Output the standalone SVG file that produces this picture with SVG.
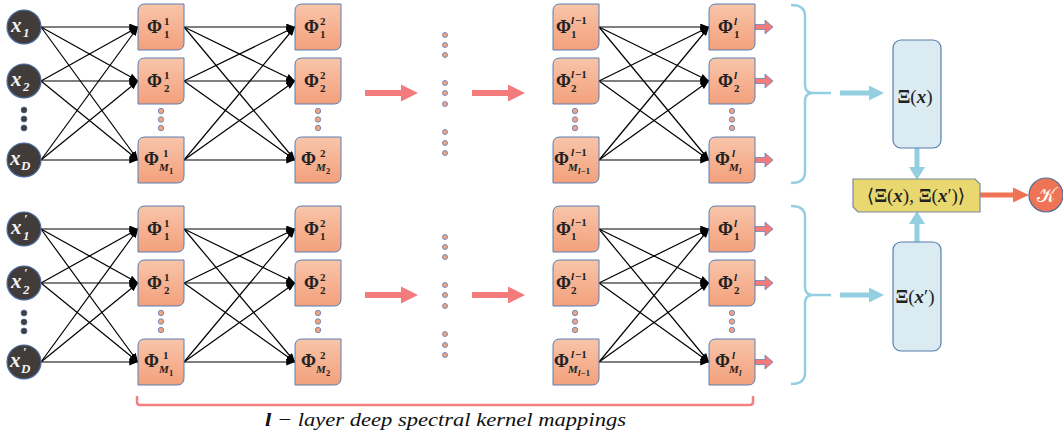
<svg xmlns="http://www.w3.org/2000/svg" xmlns:xlink="http://www.w3.org/1999/xlink" width="1063" height="439" viewBox="0 0 1063 439">
  <style>
    .cn { stroke: #000; stroke-width: 1.2; marker-end: url(#ah); }
    .inp { fill: #413b3a; stroke: #4c6ea3; stroke-width: 1.2; }
    .xin { font-family: "Liberation Serif", "DejaVu Serif", serif; font-style: italic; font-weight: bold; fill: #f2f2f2; font-size: 21px; }
    .xsub { font-family: "Liberation Serif", "DejaVu Serif", serif; font-style: italic; font-weight: bold; fill: #f2f2f2; font-size: 13px; }
    .box { fill: url(#boxFill); stroke: #5a7fb3; stroke-width: 1; }
    .phi { font-family: "Liberation Serif", "DejaVu Serif", serif; font-weight: bold; fill: #222; font-size: 18px; }
    .sc { font-family: "Liberation Serif", "DejaVu Serif", serif; font-weight: bold; fill: #222; font-size: 11px; }
    .sci { font-family: "Liberation Serif", "DejaVu Serif", serif; font-weight: bold; font-style: italic; fill: #222; font-size: 11px; }
    .ssc { font-family: "Liberation Serif", "DejaVu Serif", serif; font-weight: bold; fill: #222; font-size: 8.5px; }
    .ssci { font-family: "Liberation Serif", "DejaVu Serif", serif; font-weight: bold; font-style: italic; fill: #222; font-size: 8.5px; }
    .dk { fill: #433d3c; stroke: #4d6fa0; stroke-width: 0.8; }
    .od { fill: #f2a37e; stroke: #6786b8; stroke-width: 0.9; }
    .red { fill: #f47b7b; }
    .out { fill: #f47b7b; stroke: #6f83b5; stroke-width: 0.8; }
    .brace { fill: none; stroke: #93cfe0; stroke-width: 2.5; }
    .blue { fill: #93cfe0; }
    .xi { fill: #daebf2; stroke: #5b7fae; stroke-width: 1.2; }
    .mt { font-family: "Liberation Serif", "DejaVu Serif", serif; fill: #222; font-size: 19px; }
    .cap { font-family: "Liberation Serif", "DejaVu Serif", serif; font-style: italic; fill: #111; font-size: 19px; }
  </style>
  <defs>
    <linearGradient id="boxFill" x1="0" y1="0" x2="0" y2="1">
      <stop offset="0" stop-color="#f8c5aa"/>
      <stop offset="1" stop-color="#f3a07b"/>
    </linearGradient>
    <!-- rounded-diagonal node box, 46 x 46 -->
    <path id="bx" class="box" d="M7,0 H46 V39 Q46,46 39,46 H0 V7 Q0,0 7,0 Z"/>
    <marker id="ah" viewBox="0 0 10 8" refX="10" refY="4" markerWidth="9" markerHeight="7" markerUnits="userSpaceOnUse" orient="auto">
      <path d="M0,0 L10,4 L0,8 Z" fill="#000"/>
    </marker>
  </defs>

  <rect width="1063" height="439" fill="#fff"/>

  <!-- fully connected links between consecutive layers -->
  <g id="connectors">
    <!-- upper branch: inputs to layer 1 -->
    <line class="cn" x1="41" y1="27" x2="138" y2="27"/>
    <line class="cn" x1="41" y1="27" x2="138" y2="81"/>
    <line class="cn" x1="41" y1="27" x2="138" y2="160"/>
    <line class="cn" x1="41" y1="81" x2="138" y2="27"/>
    <line class="cn" x1="41" y1="81" x2="138" y2="81"/>
    <line class="cn" x1="41" y1="81" x2="138" y2="160"/>
    <line class="cn" x1="41" y1="160" x2="138" y2="27"/>
    <line class="cn" x1="41" y1="160" x2="138" y2="81"/>
    <line class="cn" x1="41" y1="160" x2="138" y2="160"/>
    <!-- upper branch: layer 1 to layer 2 -->
    <line class="cn" x1="184" y1="27" x2="295" y2="27"/>
    <line class="cn" x1="184" y1="27" x2="295" y2="81"/>
    <line class="cn" x1="184" y1="27" x2="295" y2="160"/>
    <line class="cn" x1="184" y1="81" x2="295" y2="27"/>
    <line class="cn" x1="184" y1="81" x2="295" y2="81"/>
    <line class="cn" x1="184" y1="81" x2="295" y2="160"/>
    <line class="cn" x1="184" y1="160" x2="295" y2="27"/>
    <line class="cn" x1="184" y1="160" x2="295" y2="81"/>
    <line class="cn" x1="184" y1="160" x2="295" y2="160"/>
    <!-- upper branch: layer l-1 to layer l -->
    <line class="cn" x1="599" y1="27" x2="709" y2="27"/>
    <line class="cn" x1="599" y1="27" x2="709" y2="81"/>
    <line class="cn" x1="599" y1="27" x2="709" y2="160"/>
    <line class="cn" x1="599" y1="81" x2="709" y2="27"/>
    <line class="cn" x1="599" y1="81" x2="709" y2="81"/>
    <line class="cn" x1="599" y1="81" x2="709" y2="160"/>
    <line class="cn" x1="599" y1="160" x2="709" y2="27"/>
    <line class="cn" x1="599" y1="160" x2="709" y2="81"/>
    <line class="cn" x1="599" y1="160" x2="709" y2="160"/>
    <!-- lower branch: inputs to layer 1 -->
    <line class="cn" x1="41" y1="229" x2="138" y2="229"/>
    <line class="cn" x1="41" y1="229" x2="138" y2="283"/>
    <line class="cn" x1="41" y1="229" x2="138" y2="362"/>
    <line class="cn" x1="41" y1="283" x2="138" y2="229"/>
    <line class="cn" x1="41" y1="283" x2="138" y2="283"/>
    <line class="cn" x1="41" y1="283" x2="138" y2="362"/>
    <line class="cn" x1="41" y1="362" x2="138" y2="229"/>
    <line class="cn" x1="41" y1="362" x2="138" y2="283"/>
    <line class="cn" x1="41" y1="362" x2="138" y2="362"/>
    <!-- lower branch: layer 1 to layer 2 -->
    <line class="cn" x1="184" y1="229" x2="295" y2="229"/>
    <line class="cn" x1="184" y1="229" x2="295" y2="283"/>
    <line class="cn" x1="184" y1="229" x2="295" y2="362"/>
    <line class="cn" x1="184" y1="283" x2="295" y2="229"/>
    <line class="cn" x1="184" y1="283" x2="295" y2="283"/>
    <line class="cn" x1="184" y1="283" x2="295" y2="362"/>
    <line class="cn" x1="184" y1="362" x2="295" y2="229"/>
    <line class="cn" x1="184" y1="362" x2="295" y2="283"/>
    <line class="cn" x1="184" y1="362" x2="295" y2="362"/>
    <!-- lower branch: layer l-1 to layer l -->
    <line class="cn" x1="599" y1="229" x2="709" y2="229"/>
    <line class="cn" x1="599" y1="229" x2="709" y2="283"/>
    <line class="cn" x1="599" y1="229" x2="709" y2="362"/>
    <line class="cn" x1="599" y1="283" x2="709" y2="229"/>
    <line class="cn" x1="599" y1="283" x2="709" y2="283"/>
    <line class="cn" x1="599" y1="283" x2="709" y2="362"/>
    <line class="cn" x1="599" y1="362" x2="709" y2="229"/>
    <line class="cn" x1="599" y1="362" x2="709" y2="283"/>
    <line class="cn" x1="599" y1="362" x2="709" y2="362"/>

    <!-- wide arrows skipping the hidden layers -->
    <path class="red" d="M365,90 H401 V84.5 L418,93 L401,101.5 V96 H365 Z"/>
    <path class="red" d="M472,90 H508 V84.5 L525,93 L508,101.5 V96 H472 Z"/>
    <path class="red" d="M365,292 H401 V286.5 L418,295 L401,303.5 V298 H365 Z"/>
    <path class="red" d="M472,292 H508 V286.5 L525,295 L508,303.5 V298 H472 Z"/>

    <!-- outputs of the last layer -->
    <path class="out" d="M755,24.5 H765 V20 L773,27 L765,34 V29.5 H755 Z"/>
    <path class="out" d="M755,78.5 H765 V74 L773,81 L765,88 V83.5 H755 Z"/>
    <path class="out" d="M755,157.5 H765 V153 L773,160 L765,167 V162.5 H755 Z"/>
    <path class="out" d="M755,226.5 H765 V222 L773,229 L765,236 V231.5 H755 Z"/>
    <path class="out" d="M755,280.5 H765 V276 L773,283 L765,290 V285.5 H755 Z"/>
    <path class="out" d="M755,359.5 H765 V355 L773,362 L765,369 V364.5 H755 Z"/>

    <!-- braces gathering the outputs -->
    <path class="brace" d="M791,5 Q805,5 805,16 V85 Q805,93 813,93 H831 M813,93 Q805,93 805,101 V172 Q805,183 791,183"/>
    <path class="brace" d="M791,206 Q805,206 805,217 V287 Q805,295 813,295 H831 M813,295 Q805,295 805,303 V373 Q805,384 791,384"/>

    <!-- feature maps -->
    <path class="blue" d="M840,90.5 H869 V85.5 L884,93 L869,100.5 V95.5 H840 Z"/>
    <path class="blue" d="M840,292.5 H869 V287.5 L884,295 L869,302.5 V297.5 H840 Z"/>
    <path class="blue" d="M914.5,148 V167 H909 L917,180 L925,167 H919.5 V148 Z"/>
    <path class="blue" d="M914.5,242 V224 H909 L917,211 L925,224 H919.5 V242 Z"/>

    <!-- inner product to kernel -->
    <path d="M980,192.5 H1013 V187.5 L1029,195 L1013,202.5 V197.5 H980 Z" fill="#ef7455"/>

    <!-- span of the l layers -->
    <path d="M137,396 V402 Q137,405 140,405 H750 Q753,405 753,402 V396" fill="none" stroke="#f47f80" stroke-width="2.5"/>
  </g>

  <!-- upper inputs -->
  <g id="in-x1"><circle class="inp" cx="24" cy="27" r="17"/><text class="xin" x="11" y="32">x</text><text class="xsub" x="23" y="37">1</text></g>
  <g id="in-x2"><circle class="inp" cx="24" cy="81" r="17"/><text class="xin" x="11" y="86">x</text><text class="xsub" x="23" y="91">2</text></g>
  <g id="in-dots-top"><circle class="dk" cx="24" cy="110" r="3"/><circle class="dk" cx="24" cy="119" r="3"/><circle class="dk" cx="24" cy="128" r="3"/></g>
  <g id="in-xD"><circle class="inp" cx="24" cy="160" r="17"/><text class="xin" x="10" y="165">x</text><text class="xsub" x="21" y="170">D</text></g>

  <!-- lower inputs -->
  <g id="in-xp1"><circle class="inp" cx="24" cy="229" r="17"/><text class="xin" x="11" y="234">x</text><text class="xsub" x="24" y="223">′</text><text class="xsub" x="23" y="240">1</text></g>
  <g id="in-xp2"><circle class="inp" cx="24" cy="283" r="17"/><text class="xin" x="11" y="288">x</text><text class="xsub" x="24" y="277">′</text><text class="xsub" x="23" y="294">2</text></g>
  <g id="in-dots-bot"><circle class="dk" cx="24" cy="313" r="3"/><circle class="dk" cx="24" cy="322" r="3"/><circle class="dk" cx="24" cy="331" r="3"/></g>
  <g id="in-xpD"><circle class="inp" cx="24" cy="362" r="17"/><text class="xin" x="10" y="367">x</text><text class="xsub" x="23" y="356">′</text><text class="xsub" x="21" y="373">D</text></g>

  <!-- upper layer 1 -->
  <g id="u-l1-1"><use href="#bx" x="138" y="4"/><text class="phi" x="147" y="33">Φ</text><text class="sc" x="164" y="25">1</text><text class="sc" x="164" y="38">1</text></g>
  <g id="u-l1-2"><use href="#bx" x="138" y="58"/><text class="phi" x="147" y="87">Φ</text><text class="sc" x="164" y="79">1</text><text class="sc" x="164" y="92">2</text></g>
  <g id="u-l1-dots"><circle class="od" cx="161" cy="111" r="2.7"/><circle class="od" cx="161" cy="119.5" r="2.7"/><circle class="od" cx="161" cy="128" r="2.7"/></g>
  <g id="u-l1-M"><use href="#bx" x="138" y="137"/><text class="phi" x="144" y="165">Φ</text><text class="sc" x="163" y="157">1</text><text class="sci" x="159" y="171">M</text><text class="ssc" x="169" y="174">1</text></g>

  <!-- upper layer 2 -->
  <g id="u-l2-1"><use href="#bx" x="295" y="4"/><text class="phi" x="304" y="33">Φ</text><text class="sc" x="320" y="25">2</text><text class="sc" x="320" y="38">1</text></g>
  <g id="u-l2-2"><use href="#bx" x="295" y="58"/><text class="phi" x="304" y="87">Φ</text><text class="sc" x="320" y="79">2</text><text class="sc" x="320" y="92">2</text></g>
  <g id="u-l2-dots"><circle class="od" cx="318" cy="111" r="2.7"/><circle class="od" cx="318" cy="119.5" r="2.7"/><circle class="od" cx="318" cy="128" r="2.7"/></g>
  <g id="u-l2-M"><use href="#bx" x="295" y="137"/><text class="phi" x="301" y="165">Φ</text><text class="sc" x="320" y="157">2</text><text class="sci" x="316" y="171">M</text><text class="ssc" x="326" y="174">2</text></g>

  <!-- hidden intermediate layers -->
  <g id="u-mid-dots">
    <circle class="od" cx="445" cy="35" r="2.5"/><circle class="od" cx="445" cy="45" r="2.5"/><circle class="od" cx="445" cy="55" r="2.5"/>
    <circle class="od" cx="445" cy="83" r="2.5"/><circle class="od" cx="445" cy="93" r="2.5"/><circle class="od" cx="445" cy="104" r="2.5"/>
    <circle class="od" cx="445" cy="132" r="2.5"/><circle class="od" cx="445" cy="143" r="2.5"/><circle class="od" cx="445" cy="153" r="2.5"/>
  </g>

  <!-- upper layer l-1 -->
  <g id="u-lm1-1"><use href="#bx" x="553" y="4"/><text class="phi" x="556" y="33">Φ</text><text class="sci" x="571" y="24">l</text><text class="sc" x="575" y="24">−1</text><text class="sc" x="571" y="38">1</text></g>
  <g id="u-lm1-2"><use href="#bx" x="553" y="58"/><text class="phi" x="556" y="87">Φ</text><text class="sci" x="571" y="78">l</text><text class="sc" x="575" y="78">−1</text><text class="sc" x="571" y="92">2</text></g>
  <g id="u-lm1-dots"><circle class="od" cx="575" cy="111" r="2.7"/><circle class="od" cx="575" cy="119.5" r="2.7"/><circle class="od" cx="575" cy="128" r="2.7"/></g>
  <g id="u-lm1-M"><use href="#bx" x="553" y="137"/><text class="phi" x="554" y="165">Φ</text><text class="sci" x="571" y="156">l</text><text class="sc" x="575" y="156">−1</text><text class="sci" x="568" y="171">M</text><text class="ssci" x="578" y="174">l</text><text class="ssc" x="581" y="174">−1</text></g>

  <!-- upper layer l -->
  <g id="u-l-1"><use href="#bx" x="709" y="4"/><text class="phi" x="718" y="33">Φ</text><text class="sci" x="734" y="25">l</text><text class="sc" x="734" y="38">1</text></g>
  <g id="u-l-2"><use href="#bx" x="709" y="58"/><text class="phi" x="718" y="87">Φ</text><text class="sci" x="734" y="79">l</text><text class="sc" x="734" y="92">2</text></g>
  <g id="u-l-dots"><circle class="od" cx="732" cy="111" r="2.7"/><circle class="od" cx="732" cy="119.5" r="2.7"/><circle class="od" cx="732" cy="128" r="2.7"/></g>
  <g id="u-l-M"><use href="#bx" x="709" y="137"/><text class="phi" x="715" y="165">Φ</text><text class="sci" x="732" y="157">l</text><text class="sci" x="729" y="171">M</text><text class="ssci" x="739" y="174">l</text></g>

  <!-- lower layer 1 -->
  <g id="d-l1-1"><use href="#bx" x="138" y="206"/><text class="phi" x="147" y="235">Φ</text><text class="sc" x="164" y="227">1</text><text class="sc" x="164" y="240">1</text></g>
  <g id="d-l1-2"><use href="#bx" x="138" y="260"/><text class="phi" x="147" y="289">Φ</text><text class="sc" x="164" y="281">1</text><text class="sc" x="164" y="294">2</text></g>
  <g id="d-l1-dots"><circle class="od" cx="161" cy="313" r="2.7"/><circle class="od" cx="161" cy="321.5" r="2.7"/><circle class="od" cx="161" cy="330" r="2.7"/></g>
  <g id="d-l1-M"><use href="#bx" x="138" y="339"/><text class="phi" x="144" y="367">Φ</text><text class="sc" x="163" y="359">1</text><text class="sci" x="159" y="373">M</text><text class="ssc" x="169" y="376">1</text></g>

  <!-- lower layer 2 -->
  <g id="d-l2-1"><use href="#bx" x="295" y="206"/><text class="phi" x="304" y="235">Φ</text><text class="sc" x="320" y="227">2</text><text class="sc" x="320" y="240">1</text></g>
  <g id="d-l2-2"><use href="#bx" x="295" y="260"/><text class="phi" x="304" y="289">Φ</text><text class="sc" x="320" y="281">2</text><text class="sc" x="320" y="294">2</text></g>
  <g id="d-l2-dots"><circle class="od" cx="318" cy="313" r="2.7"/><circle class="od" cx="318" cy="321.5" r="2.7"/><circle class="od" cx="318" cy="330" r="2.7"/></g>
  <g id="d-l2-M"><use href="#bx" x="295" y="339"/><text class="phi" x="301" y="367">Φ</text><text class="sc" x="320" y="359">2</text><text class="sci" x="316" y="373">M</text><text class="ssc" x="326" y="376">2</text></g>

  <g id="d-mid-dots">
    <circle class="od" cx="445" cy="237" r="2.5"/><circle class="od" cx="445" cy="247" r="2.5"/><circle class="od" cx="445" cy="257" r="2.5"/>
    <circle class="od" cx="445" cy="285" r="2.5"/><circle class="od" cx="445" cy="295" r="2.5"/><circle class="od" cx="445" cy="306" r="2.5"/>
    <circle class="od" cx="445" cy="334" r="2.5"/><circle class="od" cx="445" cy="345" r="2.5"/><circle class="od" cx="445" cy="355" r="2.5"/>
  </g>

  <!-- lower layer l-1 -->
  <g id="d-lm1-1"><use href="#bx" x="553" y="206"/><text class="phi" x="556" y="235">Φ</text><text class="sci" x="571" y="226">l</text><text class="sc" x="575" y="226">−1</text><text class="sc" x="571" y="240">1</text></g>
  <g id="d-lm1-2"><use href="#bx" x="553" y="260"/><text class="phi" x="556" y="289">Φ</text><text class="sci" x="571" y="280">l</text><text class="sc" x="575" y="280">−1</text><text class="sc" x="571" y="294">2</text></g>
  <g id="d-lm1-dots"><circle class="od" cx="575" cy="313" r="2.7"/><circle class="od" cx="575" cy="321.5" r="2.7"/><circle class="od" cx="575" cy="330" r="2.7"/></g>
  <g id="d-lm1-M"><use href="#bx" x="553" y="339"/><text class="phi" x="554" y="367">Φ</text><text class="sci" x="571" y="358">l</text><text class="sc" x="575" y="358">−1</text><text class="sci" x="568" y="373">M</text><text class="ssci" x="578" y="376">l</text><text class="ssc" x="581" y="376">−1</text></g>

  <!-- lower layer l -->
  <g id="d-l-1"><use href="#bx" x="709" y="206"/><text class="phi" x="718" y="235">Φ</text><text class="sci" x="734" y="227">l</text><text class="sc" x="734" y="240">1</text></g>
  <g id="d-l-2"><use href="#bx" x="709" y="260"/><text class="phi" x="718" y="289">Φ</text><text class="sci" x="734" y="281">l</text><text class="sc" x="734" y="294">2</text></g>
  <g id="d-l-dots"><circle class="od" cx="732" cy="313" r="2.7"/><circle class="od" cx="732" cy="321.5" r="2.7"/><circle class="od" cx="732" cy="330" r="2.7"/></g>
  <g id="d-l-M"><use href="#bx" x="709" y="339"/><text class="phi" x="715" y="367">Φ</text><text class="sci" x="732" y="359">l</text><text class="sci" x="729" y="373">M</text><text class="ssci" x="739" y="376">l</text></g>

  <!-- spectral feature maps -->
  <g id="xi-x">
    <rect class="xi" x="893" y="40" width="48" height="108" rx="8"/>
    <text class="mt" x="915" y="103" text-anchor="middle"><tspan font-weight="bold">Ξ</tspan>(<tspan font-weight="bold" font-style="italic">x</tspan>)</text>
  </g>
  <g id="xi-xp">
    <rect class="xi" x="893" y="242" width="48" height="109" rx="8"/>
    <text class="mt" x="915" y="303" text-anchor="middle"><tspan font-weight="bold">Ξ</tspan>(<tspan font-weight="bold" font-style="italic">x</tspan>′)</text>
  </g>

  <!-- inner product -->
  <g id="inner">
    <path d="M853,179 H975 L980,184 V212 H858 L853,207 Z" fill="#e9d86f" stroke="#7b8aa3" stroke-width="1.2"/>
    <text class="mt" x="916" y="202" text-anchor="middle" font-size="18">⟨<tspan font-weight="bold">Ξ</tspan>(<tspan font-weight="bold" font-style="italic">x</tspan>), <tspan font-weight="bold">Ξ</tspan>(<tspan font-weight="bold" font-style="italic">x</tspan>′)⟩</text>
  </g>

  <!-- kernel -->
  <g id="kernel">
    <circle cx="1046" cy="195" r="17" fill="#ef7455" stroke="#4d6fa0" stroke-width="1.2"/>
    <text x="1046" y="202" text-anchor="middle" font-family="'DejaVu Serif', 'Noto Sans', serif" font-size="20" fill="#fff">𝒦</text>
  </g>

  <!-- caption -->
  <text class="cap" x="265" y="426" textLength="361" lengthAdjust="spacingAndGlyphs"><tspan font-weight="bold">l</tspan> − layer deep spectral kernel mappings</text>
</svg>
